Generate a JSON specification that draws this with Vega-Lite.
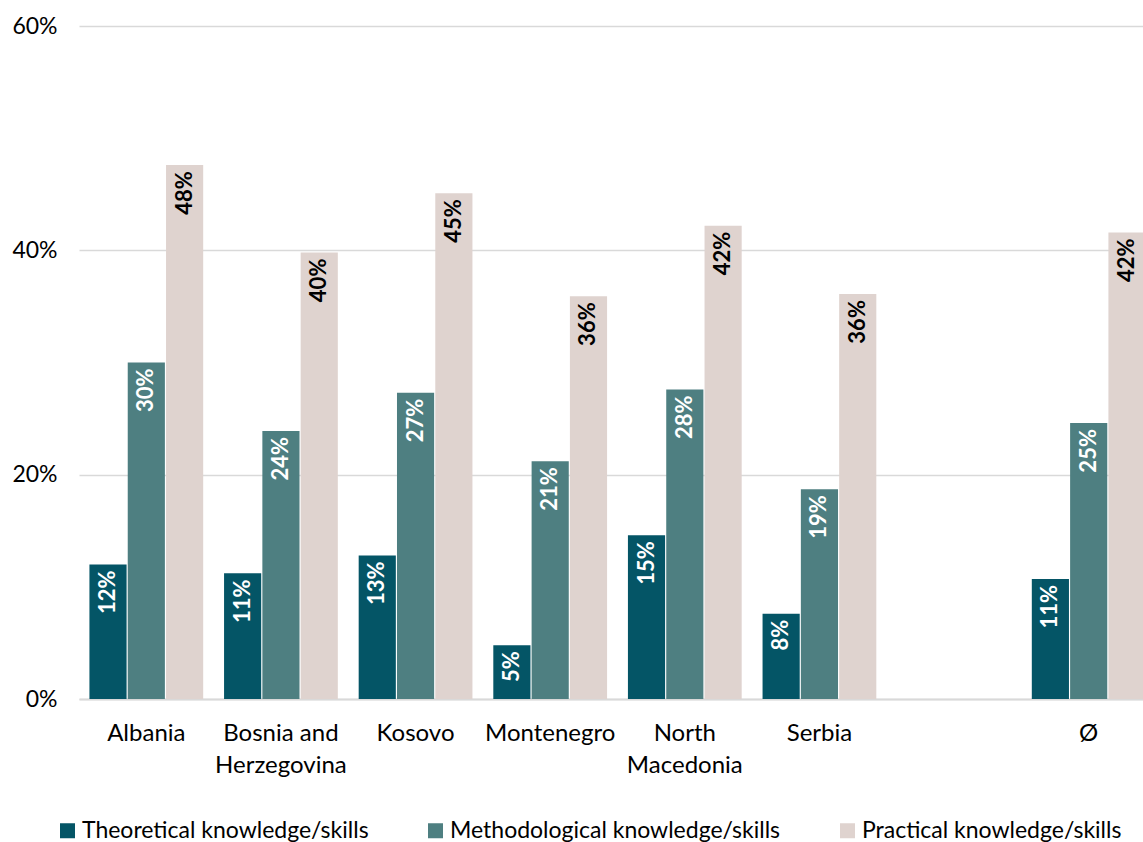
{
  "$schema": "https://vega.github.io/schema/vega-lite/v6.json",
  "autosize": "none",
  "width": 1064,
  "height": 673,
  "padding": {"left": 79, "top": 26, "right": 0, "bottom": 143},
  "background": "white",
  "config": {
    "font": "Lato",
    "view": {"stroke": null}
  },
  "data": {
    "values": [
      {"country": "Albania", "series": "Theoretical knowledge/skills", "value": 0.120},
      {"country": "Albania", "series": "Methodological knowledge/skills", "value": 0.300},
      {"country": "Albania", "series": "Practical knowledge/skills", "value": 0.476},
      {"country": "Bosnia and Herzegovina", "series": "Theoretical knowledge/skills", "value": 0.112},
      {"country": "Bosnia and Herzegovina", "series": "Methodological knowledge/skills", "value": 0.239},
      {"country": "Bosnia and Herzegovina", "series": "Practical knowledge/skills", "value": 0.398},
      {"country": "Kosovo", "series": "Theoretical knowledge/skills", "value": 0.128},
      {"country": "Kosovo", "series": "Methodological knowledge/skills", "value": 0.273},
      {"country": "Kosovo", "series": "Practical knowledge/skills", "value": 0.451},
      {"country": "Montenegro", "series": "Theoretical knowledge/skills", "value": 0.048},
      {"country": "Montenegro", "series": "Methodological knowledge/skills", "value": 0.212},
      {"country": "Montenegro", "series": "Practical knowledge/skills", "value": 0.359},
      {"country": "North Macedonia", "series": "Theoretical knowledge/skills", "value": 0.146},
      {"country": "North Macedonia", "series": "Methodological knowledge/skills", "value": 0.276},
      {"country": "North Macedonia", "series": "Practical knowledge/skills", "value": 0.422},
      {"country": "Serbia", "series": "Theoretical knowledge/skills", "value": 0.076},
      {"country": "Serbia", "series": "Methodological knowledge/skills", "value": 0.187},
      {"country": "Serbia", "series": "Practical knowledge/skills", "value": 0.361},
      {"country": "Ø", "series": "Theoretical knowledge/skills", "value": 0.107},
      {"country": "Ø", "series": "Methodological knowledge/skills", "value": 0.246},
      {"country": "Ø", "series": "Practical knowledge/skills", "value": 0.416}
    ]
  },
  "encoding": {
    "x": {
      "field": "country",
      "type": "nominal",
      "sort": null,
      "scale": {
        "domain": ["Albania", "Bosnia and Herzegovina", "Kosovo", "Montenegro", "North Macedonia", "Serbia", " ", "Ø"],
        "range": [0, 1077],
        "paddingInner": 0.155,
        "paddingOuter": 0.0775
      },
      "axis": {
        "title": null,
        "labelAngle": 0,
        "ticks": false,
        "domain": true,
        "domainColor": "#d9d9d9",
        "domainWidth": 2,
        "labelFontSize": 24,
        "labelColor": "#000000",
        "labelPadding": 22,
        "labelLineHeight": 32,
        "labelBaseline": "top",
        "labelExpr": "datum.value == 'Bosnia and Herzegovina' ? ['Bosnia and', 'Herzegovina'] : datum.value == 'North Macedonia' ? ['North', 'Macedonia'] : datum.label"
      }
    },
    "xOffset": {
      "field": "series",
      "type": "nominal",
      "sort": ["Theoretical knowledge/skills", "Methodological knowledge/skills", "Practical knowledge/skills"],
      "scale": {"paddingInner": 0.03}
    },
    "y": {
      "field": "value",
      "type": "quantitative",
      "scale": {"domain": [0, 0.6]},
      "axis": {
        "title": null,
        "format": ".0%",
        "values": [0, 0.2, 0.4, 0.6],
        "ticks": false,
        "domain": false,
        "grid": true,
        "gridColor": "#d9d9d9",
        "gridWidth": 1.5,
        "labelFontSize": 23,
        "labelColor": "#000000",
        "labelPadding": 22
      }
    }
  },
  "layer": [
    {
      "mark": {"type": "bar"},
      "encoding": {
        "color": {
          "field": "series",
          "type": "nominal",
          "sort": ["Theoretical knowledge/skills", "Methodological knowledge/skills", "Practical knowledge/skills"],
          "scale": {
            "domain": ["Theoretical knowledge/skills", "Methodological knowledge/skills", "Practical knowledge/skills"],
            "range": ["#045566", "#4e7f81", "#dfd3cf"]
          },
          "legend": {
            "title": null,
            "orient": "none",
            "direction": "horizontal",
            "legendX": -23,
            "legendY": 793,
            "symbolType": "square",
            "symbolSize": 225,
            "symbolStrokeWidth": 0,
            "labelFontSize": 23,
            "labelColor": "#000000",
            "labelOffset": 3,
            "columnPadding": 55,
            "labelLimit": 0
          }
        }
      }
    },
    {
      "mark": {"type": "text", "angle": 270, "align": "right", "baseline": "middle", "dx": -6, "fontWeight": "bold", "fontSize": 22},
      "encoding": {
        "text": {"field": "value", "type": "quantitative", "format": ".0%"},
        "color": {
          "condition": {"test": "datum.series === 'Practical knowledge/skills'", "value": "#000000"},
          "value": "#ffffff"
        }
      }
    }
  ]
}
